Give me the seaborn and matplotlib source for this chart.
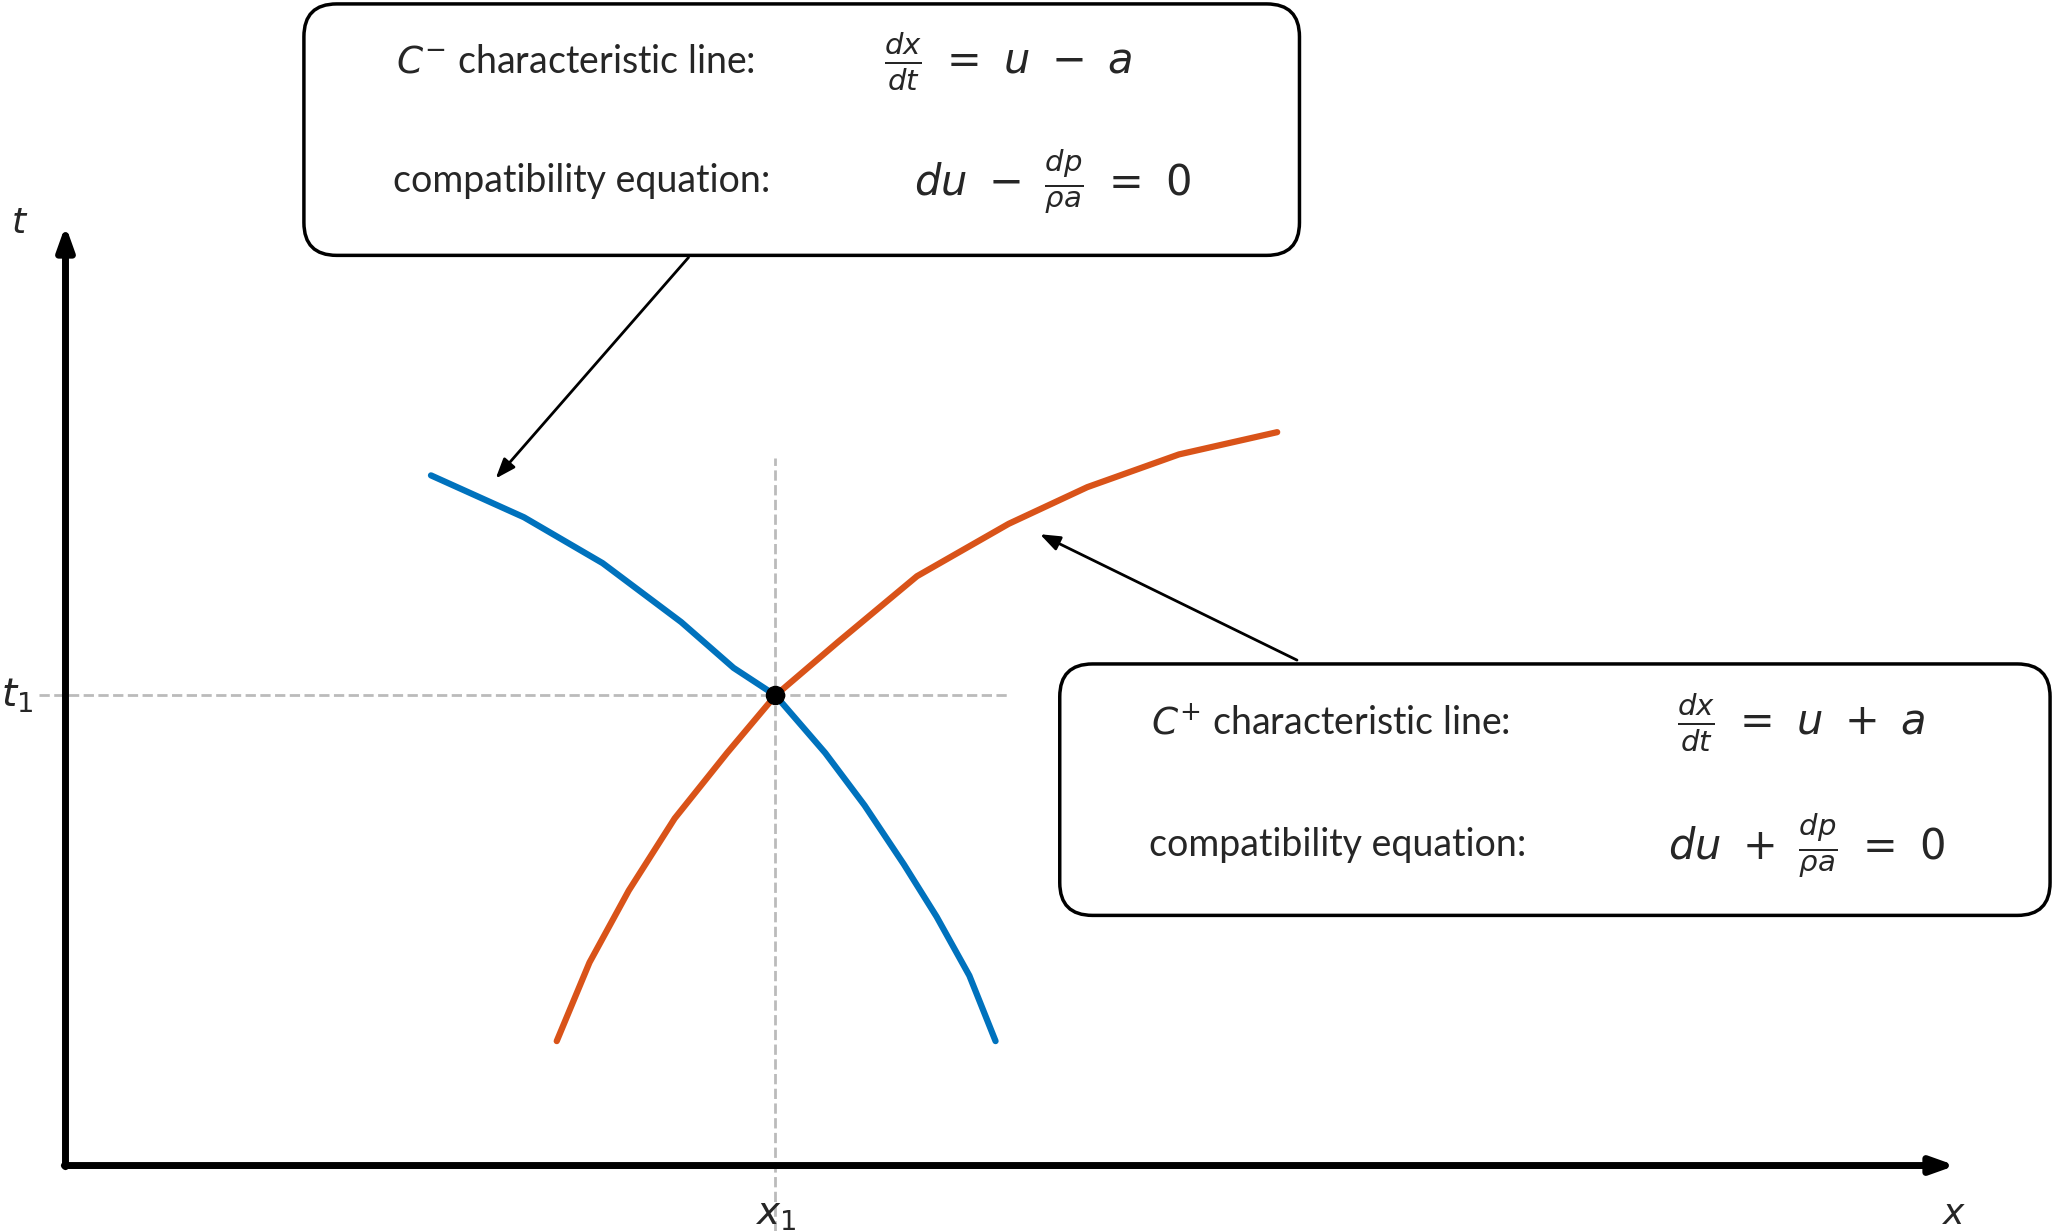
import numpy as np
import pandas as pd
import seaborn as sns
import matplotlib.pyplot as plt
from matplotlib.patches import FancyBboxPatch

# curve points (x, t) with origin at the axes corner
cminus_x = [279, 350, 410, 470, 510, 542, 580, 610, 640, 665, 690, 710]
cminus_t = [527, 495, 460, 415, 380, 359, 315, 275, 230, 190, 145, 95]
cplus_x = [375, 400, 430, 465, 505, 542, 590, 650, 720, 780, 850, 925]
cplus_t = [95, 155, 210, 265, 315, 359, 400, 450, 490, 518, 543, 560]
x1, t1 = 542, 359

sns.set_style('white')
plt.rcParams['font.family'] = ['Lato', 'DejaVu Sans']
plt.rcParams['mathtext.fontset'] = 'dejavusans'

fig = plt.figure(figsize=(20.54, 12.31), dpi=100)
ax = fig.add_axes([0, 0, 1, 1])
ax.set_xlim(-50, 1518)
ax.set_ylim(-50, 890)
ax.axis('off')

df = pd.concat([
    pd.DataFrame({'x': cminus_x, 't': cminus_t, 'c': 'minus'}),
    pd.DataFrame({'x': cplus_x, 't': cplus_t, 'c': 'plus'}),
])
sns.lineplot(data=df, x='x', y='t', hue='c', palette={'minus': '#0072bd', 'plus': '#d95319'},
             sort=False, estimator=None, linewidth=4.5, legend=False, ax=ax)

ax.plot([-20, 720], [t1, t1], ls='--', color='#bbbbbb', lw=2, zorder=0)
ax.plot([x1, x1], [-50, 540], ls='--', color='#bbbbbb', lw=2, zorder=0)
ax.plot([x1], [t1], 'o', color='black', ms=13, zorder=5)

# axes arrows
ax.annotate('', xy=(1445, 0), xytext=(-3, 0),
            arrowprops=dict(arrowstyle='-|>,head_length=1.4,head_width=0.5', lw=5, color='black'))
ax.annotate('', xy=(0, 720), xytext=(0, -3),
            arrowprops=dict(arrowstyle='-|>,head_length=1.4,head_width=0.5', lw=5, color='black'))
ax.text(-35, 720, '$t$', fontsize=26, ha='center', va='center')
ax.text(1442, -37, '$x$', fontsize=26, ha='center', va='center')
ax.text(-37, 359, '$t_1$', fontsize=28, ha='center', va='center')
ax.text(x1, -38, '$x_1$', fontsize=28, ha='center', va='center')

# annotation boxes
for (bx, by, w, h) in [(182, 695, 760, 192), (759, 191, 756, 192)]:
    ax.add_patch(FancyBboxPatch((bx + 25, by + 25), w - 50, h - 50,
                                boxstyle='round,pad=25', fc='white', ec='black', lw=2.5))

fs = 27
mfs = 30
ax.text(252, 843, r'$C^{-}$ characteristic line:', fontsize=fs, va='center')
ax.text(625, 843, r'$\frac{dx}{dt}\ =\ u\ -\ a$', fontsize=mfs, va='center')
ax.text(250, 752, 'compatibility equation:', fontsize=fs, va='center')
ax.text(648, 752, r'$du\ -\ \frac{dp}{\rho a}\ =\ 0$', fontsize=mfs, va='center')

ax.text(829, 338, r'$C^{+}$ characteristic line:', fontsize=fs, va='center')
ax.text(1230, 338, r'$\frac{dx}{dt}\ =\ u\ +\ a$', fontsize=mfs, va='center')
ax.text(827, 245, 'compatibility equation:', fontsize=fs, va='center')
ax.text(1223, 245, r'$du\ +\ \frac{dp}{\rho a}\ =\ 0$', fontsize=mfs, va='center')

ax.annotate('', xy=(327, 523), xytext=(477, 695),
            arrowprops=dict(arrowstyle='-|>,head_length=1.2,head_width=0.45', lw=2, color='black'))
ax.annotate('', xy=(742, 483), xytext=(942, 385),
            arrowprops=dict(arrowstyle='-|>,head_length=1.2,head_width=0.45', lw=2, color='black'))

fig.savefig('out.png', dpi=100)
